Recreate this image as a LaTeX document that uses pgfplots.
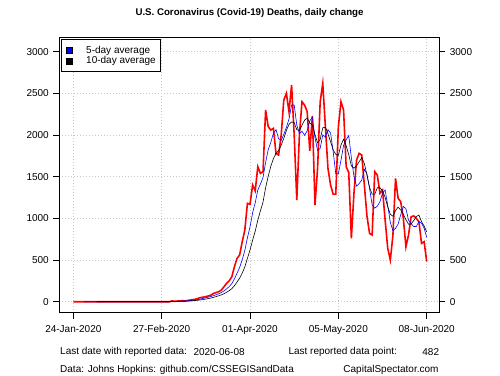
\documentclass[border=0pt]{standalone}
\usepackage{pgfplots}
\pgfplotsset{compat=1.18}
\usepackage{fontspec}
\setmainfont{Liberation Sans}
\definecolor{gridgray}{RGB}{200,200,200}
\newcommand{\tf}{\fontsize{10bp}{12bp}\selectfont}
\begin{document}
\begin{tikzpicture}[x=1bp,y=1bp]
\path[use as bounding box, fill=white] (0,0) rectangle (500,375);
\begin{axis}[
  at={(59.3bp,62.3bp)}, anchor=south west,
  scale only axis, width=380bp, height=275.4bp,
  xmin=-5.4, xmax=140.85, ymin=-132, ymax=3172.8,
  xtick={0,34,68,102,136},
  xticklabels={24-Jan-2020,27-Feb-2020,01-Apr-2020,05-May-2020,08-Jun-2020},
  ytick={0,500,1000,1500,2000,2500,3000},
  xtick pos=lower, ytick pos=left,
  tick align=outside, major tick length=6bp,
  tick style={black, line width=0.6pt},
  axis line style={black, line width=0.8pt},
  grid=major, major grid style={gridgray, line width=0.6pt, dash pattern=on 1bp off 2bp},
  tick label style={font=\tf},
  /pgf/number format/1000 sep={},
  /pgf/number format/assume math mode=true,
  xticklabel style={yshift=-3bp},
  yticklabel style={xshift=-1bp},
  legend style={at={(axis description cs:0.004,0.994)}, anchor=north west,
    draw=black, line width=0.8pt, fill=white, font=\tf,
    inner xsep=2bp, inner ysep=5bp, row sep=-1bp,
    nodes={inner xsep=3bp, inner ysep=1.5bp}},
  legend cell align=left,
]
\addplot[red, line width=1.6pt, forget plot] coordinates {
(0,0)(37,0)(38,10)(39,5)(40,8)(41,10)(42,12)(43,10)(44,15)(45,20)(46,25)(47,30)(48,40)(49,50)(50,55)(51,60)(52,70)(53,80)(54,100)(55,110)(56,120)(57,140)(58,180)(59,220)(60,250)(61,300)(62,420)(63,520)(64,560)(65,720)(66,860)(67,1180)(68,1170)(69,1400)(70,1330)(71,1620)(72,1540)(73,1560)(74,2300)(75,2100)(76,2060)(77,2080)(78,1780)(79,1760)(80,2000)(81,2420)(82,2500)(83,2280)(84,2600)(85,2000)(86,1220)(87,2000)(88,2400)(89,2360)(90,2280)(91,1810)(92,2230)(93,1160)(94,1600)(95,2400)(96,2620)(97,2100)(98,1600)(99,1400)(100,1290)(101,1290)(102,2100)(103,2400)(104,2300)(105,1620)(106,1550)(107,760)(108,1300)(109,1700)(110,1780)(111,1760)(112,1400)(113,1030)(114,820)(115,800)(116,1560)(117,1520)(118,1300)(119,1340)(120,980)(121,640)(122,500)(123,800)(124,1480)(125,1240)(126,1200)(127,1000)(128,660)(129,800)(130,1020)(131,1030)(132,1000)(133,960)(134,700)(135,720)(136,482)
};
\addplot[blue, line width=0.6pt, forget plot] coordinates {
(4,0)(37,0)(38,2)(39,3)(40,4.6)(41,6.6)(42,9)(43,9)(44,11)(45,13.4)(46,16.4)(47,20)(48,26)(49,33)(50,40)(51,47)(52,55)(53,63)(54,73)(55,84)(56,96)(57,110)(58,130)(59,154)(60,182)(61,218)(62,274)(63,342)(64,410)(65,504)(66,616)(67,768)(68,898)(69,1066)(70,1188)(71,1340)(72,1412)(73,1490)(74,1670)(75,1824)(76,1912)(77,2020)(78,2064)(79,1956)(80,1936)(81,2008)(82,2092)(83,2192)(84,2360)(85,2360)(86,2120)(87,2020)(88,2044)(89,1996)(90,2052)(91,2170)(92,2216)(93,1968)(94,1816)(95,1840)(96,2002)(97,1976)(98,2064)(99,2024)(100,1802)(101,1536)(102,1536)(103,1696)(104,1876)(105,1942)(106,1994)(107,1726)(108,1506)(109,1386)(110,1418)(111,1460)(112,1588)(113,1534)(114,1358)(115,1162)(116,1122)(117,1146)(118,1200)(119,1304)(120,1340)(121,1156)(122,952)(123,852)(124,880)(125,932)(126,1044)(127,1144)(128,1116)(129,980)(130,936)(131,902)(132,902)(133,962)(134,942)(135,882)(136,772)
};
\addplot[black, line width=0.6pt, forget plot] coordinates {
(9,0)(37,0)(38,1)(39,1.5)(40,2.3)(41,3.3)(42,4.5)(43,5.5)(44,7)(45,9)(46,11.5)(47,14.5)(48,17.5)(49,22)(50,26.7)(51,31.7)(52,37.5)(53,44.5)(54,53)(55,62)(56,71.5)(57,82.5)(58,96.5)(59,113.5)(60,133)(61,157)(62,192)(63,236)(64,282)(65,343)(66,417)(67,521)(68,620)(69,738)(70,846)(71,978)(72,1090)(73,1194)(74,1368)(75,1506)(76,1626)(77,1716)(78,1777)(79,1813)(80,1880)(81,1960)(82,2056)(83,2128)(84,2158)(85,2148)(86,2064)(87,2056)(88,2118)(89,2178)(90,2206)(91,2145)(92,2118)(93,2006)(94,1906)(95,1946)(96,2086)(97,2096)(98,2016)(99,1920)(100,1821)(101,1769)(102,1756)(103,1880)(104,1950)(105,1872)(106,1765)(107,1631)(108,1601)(109,1631)(110,1680)(111,1727)(112,1657)(113,1520)(114,1372)(115,1290)(116,1291)(117,1367)(118,1367)(119,1331)(120,1251)(121,1139)(122,1049)(123,1026)(124,1092)(125,1136)(126,1100)(127,1048)(128,984)(129,930)(130,934)(131,973)(132,1023)(133,1039)(134,961)(135,909)(136,837)
};
\addlegendimage{legend image code/.code={\path[draw=none,fill=none] (0bp,0bp) -- (20bp,0bp); \draw[fill=blue,draw=black,line width=0.5pt] (3bp,-3bp) rectangle (9bp,3bp);}}
\addlegendentry{5-day average}
\addlegendimage{legend image code/.code={\path[draw=none,fill=none] (0bp,0bp) -- (20bp,0bp); \draw[fill=black,draw=black,line width=0.5pt] (3bp,-3bp) rectangle (9bp,3bp);}}
\addlegendentry{10-day average}
\end{axis}
\begin{axis}[
  at={(59.3bp,62.3bp)}, anchor=south west,
  scale only axis, width=380bp, height=275.4bp,
  xmin=-5.4, xmax=140.85, ymin=-132, ymax=3172.8,
  hide x axis, axis y line*=right,
  axis line style={draw=none},
  ytick={0,500,1000,1500,2000,2500,3000},
  tick align=outside, major tick length=6bp,
  tick style={black, line width=0.6pt},
  tick label style={font=\tf},
  /pgf/number format/1000 sep={},
  /pgf/number format/assume math mode=true,
  yticklabel style={xshift=1bp},
]
\addplot[draw=none] coordinates {(0,0)};
\end{axis}
\node[font=\fontsize{9.7bp}{11bp}\selectfont\bfseries] at (249.5,361.5) {U.S. Coronavirus (Covid-19) Deaths, daily change};
\node[font=\tf, anchor=west, inner sep=0] at (60,22.7) {Last date with reported data:};
\node[font=\tf, anchor=west, inner sep=0] at (193.3,22.7) {2020-06-08};
\node[font=\tf, anchor=west, inner sep=0] at (288.3,22.7) {Last reported data point:};
\node[font=\tf, anchor=east, inner sep=0] at (439.3,22.7) {482};
\node[font=\tf, anchor=west, inner sep=0] at (60,5) {Data: Johns Hopkins: github.com/CSSEGISandData};
\node[font=\tf, anchor=east, inner sep=0] at (438.7,5) {CapitalSpectator.com};
\end{tikzpicture}
\end{document}
